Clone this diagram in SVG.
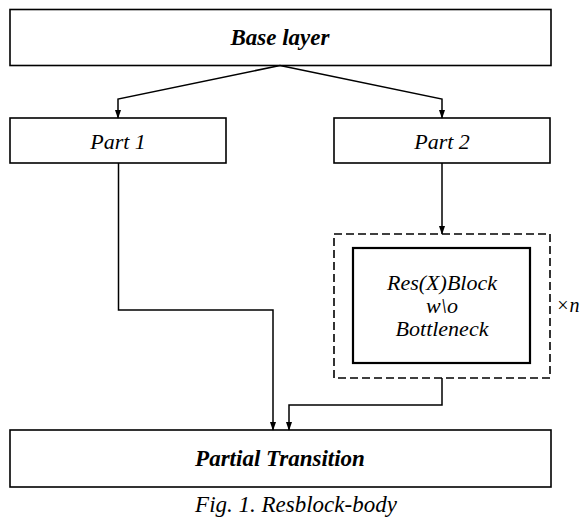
<svg xmlns="http://www.w3.org/2000/svg" width="581" height="520" viewBox="0 0 581 520">
<defs>
<marker id="ah" markerWidth="9" markerHeight="13" refX="12" refY="4.5" orient="auto" markerUnits="userSpaceOnUse" viewBox="0 0 13 9">
<path d="M0,0 L13,4.5 L0,9 Z" fill="#000"/>
</marker>
<style>
.box{fill:#fff;stroke:#000;stroke-width:1.6}
.inner{fill:#fff;stroke:#000;stroke-width:2.2}
.dash{fill:none;stroke:#000;stroke-width:1.6;stroke-dasharray:8 4}
.con{fill:none;stroke:#000;stroke-width:1.5}
.t{font-family:'Liberation Serif','Times New Roman',serif;font-style:italic;fill:#000;text-anchor:middle}
.b{font-weight:bold}
</style>
</defs>
<rect width="581" height="520" fill="#fff"/>
<g id="base-layer">
<rect class="box" x="10" y="9.5" width="541" height="56"/>
<text class="t b" x="280" y="45" font-size="23">Base layer</text>
</g>
<g id="part-1">
<rect class="box" x="10" y="118" width="216" height="45"/>
<text class="t" x="118" y="149" font-size="22">Part 1</text>
</g>
<g id="part-2">
<rect class="box" x="334" y="118" width="216" height="45"/>
<text class="t" x="442" y="149" font-size="22">Part 2</text>
</g>
<g id="repeat-group">
<rect class="dash" x="334" y="234" width="216" height="144"/>
<text class="t" x="556" y="312" font-size="20" style="text-anchor:start">×n</text>
</g>
<g id="resxblock">
<rect class="inner" x="353" y="248" width="177" height="115"/>
<text class="t" x="442" y="290" font-size="22">Res(X)Block</text>
<text class="t" x="442" y="313" font-size="22">w\o</text>
<text class="t" x="442" y="336" font-size="22">Bottleneck</text>
</g>
<g id="partial-transition">
<rect class="box" x="10" y="430" width="541" height="57"/>
<text class="t b" x="280" y="466" font-size="23">Partial Transition</text>
</g>
<g id="connectors">
<polyline class="con" points="280,65.5 118,99 118,118" marker-end="url(#ah)"/>
<polyline class="con" points="280,65.5 442,99 442,118" marker-end="url(#ah)"/>
<line class="con" x1="442" y1="163" x2="442" y2="234" stroke-width="2" marker-end="url(#ah)"/>
<polyline class="con" points="118.5,163 118.5,310 273,310 273,430" marker-end="url(#ah)"/>
<polyline class="con" points="442,378 442,405 289,405 289,430" marker-end="url(#ah)"/>
</g>
<text class="t" x="296" y="512" font-size="23">Fig. 1. Resblock-body</text>
</svg>
